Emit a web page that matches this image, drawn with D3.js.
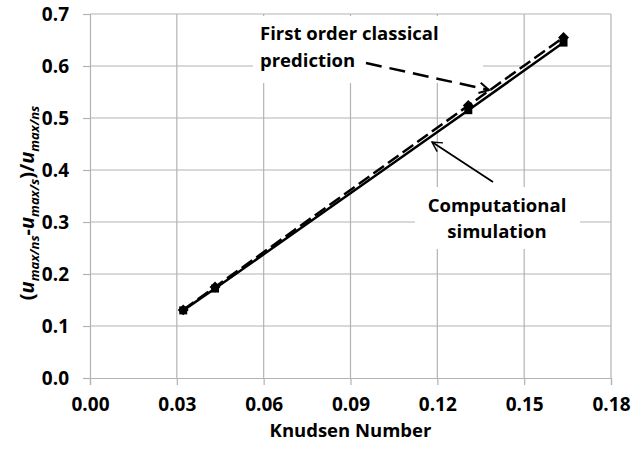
<!DOCTYPE html>
<html><head><meta charset="utf-8">
<script src="https://cdn.jsdelivr.net/npm/d3@7"></script>
<style>
body{margin:0;background:#fff;}
text{font-family:"Open Sans",Lato,sans-serif;font-weight:bold;fill:#000;}
</style></head>
<body><svg id="c" width="642" height="450"></svg>
<script>
const knudsen = [0.0322, 0.0432, 0.1307, 0.1636];
const simulation = [0.130, 0.172, 0.515, 0.645];
const firstOrder = [0.131, 0.175, 0.524, 0.655];
const xTicks = [0, 0.03, 0.06, 0.09, 0.12, 0.15, 0.18];
const yTicks = [0, 0.1, 0.2, 0.3, 0.4, 0.5, 0.6, 0.7];

const svg = d3.select("#c");
const x = d3.scaleLinear().domain([0, 0.18]).range([90, 611]);
const y = d3.scaleLinear().domain([0, 0.7]).range([378, 14]);
const grid = "#b3b3b3";

// grid
svg.append("g").selectAll("line").data(xTicks.slice(1)).join("line")
  .attr("x1", d => x(d)).attr("x2", d => x(d)).attr("y1", y(0)).attr("y2", y(0.7))
  .attr("stroke", grid).attr("stroke-width", 1.2);
svg.append("g").selectAll("line").data(yTicks.slice(1)).join("line")
  .attr("x1", x(0)).attr("x2", x(0.18)).attr("y1", d => y(d)).attr("y2", d => y(d))
  .attr("stroke", grid).attr("stroke-width", 1.2);

// axes
const xAxis = svg.append("g").attr("transform", `translate(0,${y(0)})`)
  .call(d3.axisBottom(x).tickValues(xTicks).tickFormat(d3.format(".2f")).tickSizeOuter(0).tickSize(7).tickPadding(13));
const yAxis = svg.append("g").attr("transform", `translate(${x(0)},0)`)
  .call(d3.axisLeft(y).tickValues(yTicks).tickFormat(d3.format(".1f")).tickSizeOuter(0).tickSize(7).tickPadding(14));
[xAxis, yAxis].forEach(g => {
  g.select(".domain").attr("stroke", grid).attr("stroke-width", 1.2);
  g.selectAll(".tick line").attr("stroke", grid).attr("stroke-width", 1.2);
  g.selectAll(".tick text").attr("font-size", 19).attr("font-family", '"Open Sans",sans-serif').attr("font-weight", "bold").attr("fill", "#000");
});

// annotation boxes (white background behind text)
svg.append("rect").attr("x", 253).attr("y", 16).attr("width", 230).attr("height", 67).attr("fill", "#fff");
svg.append("rect").attr("x", 415).attr("y", 187).attr("width", 165).attr("height", 62).attr("fill", "#fff");

// series
const pts = (vals) => knudsen.map((k, i) => [x(k), y(vals[i])]);
const line = d3.line();
svg.append("path").attr("d", line(pts(simulation))).attr("fill", "none")
  .attr("stroke", "#000").attr("stroke-width", 2.5);
svg.append("path").attr("d", line(pts(firstOrder))).attr("fill", "none")
  .attr("stroke", "#000").attr("stroke-width", 2.5).attr("stroke-dasharray", "13,5");

svg.append("g").selectAll("path").data(pts(simulation)).join("path")
  .attr("transform", d => `translate(${d[0]},${d[1]})`)
  .attr("d", d3.symbol(d3.symbolSquare, 64)).attr("fill", "#000");
svg.append("g").selectAll("path").data(pts(firstOrder)).join("path")
  .attr("transform", d => `translate(${d[0]},${d[1]}) rotate(45)`)
  .attr("d", d3.symbol(d3.symbolSquare, 60)).attr("fill", "#000");

// annotation texts
const ann1 = svg.append("text").attr("x", 260).attr("y", 40).attr("font-size", 18.5);
ann1.append("tspan").attr("x", 260).text("First order classical");
ann1.append("tspan").attr("x", 260).attr("y", 67).text("prediction");

const ann2 = svg.append("text").attr("text-anchor", "middle").attr("font-size", 18.5);
ann2.append("tspan").attr("x", 497).attr("y", 212).text("Computational");
ann2.append("tspan").attr("x", 497).attr("y", 238).text("simulation");

// arrows
function arrow(x1, y1, x2, y2, dash, w) {
  svg.append("line").attr("x1", x1).attr("y1", y1).attr("x2", x2).attr("y2", y2)
    .attr("stroke", "#000").attr("stroke-width", w).attr("stroke-dasharray", dash || null);
  const a = Math.atan2(y2 - y1, x2 - x1), L = 11, s = 0.5;
  const p1 = [x2 - L * Math.cos(a - s), y2 - L * Math.sin(a - s)];
  const p2 = [x2 - L * Math.cos(a + s), y2 - L * Math.sin(a + s)];
  svg.append("path").attr("d", `M${p1}L${x2},${y2}L${p2}`).attr("fill", "none")
    .attr("stroke", "#000").attr("stroke-width", w * 0.8);
}
arrow(366, 63, 489, 90, "16,8", 2.5);
arrow(493, 182, 432, 142, null, 1.8);

// axis titles
svg.append("text").attr("x", x(0.09)).attr("y", 437).attr("text-anchor", "middle")
  .attr("font-size", 18.5).text("Knudsen Number");
const yt = svg.append("text").attr("transform", "translate(34,203) rotate(-90)")
  .attr("text-anchor", "middle").attr("font-size", 20);
const sub = (t) => yt.append("tspan").attr("font-size", 13).attr("font-style", "italic").attr("dy", 5).text(t);
yt.append("tspan").text("(");
yt.append("tspan").attr("font-style", "italic").text("u");
sub("max/ns");
yt.append("tspan").attr("dy", -5).text("-");
yt.append("tspan").attr("font-style", "italic").text("u");
sub("max/s");
yt.append("tspan").attr("dy", -5).text(")/");
yt.append("tspan").attr("font-style", "italic").text("u");
sub("max/ns");
</script></body></html>
